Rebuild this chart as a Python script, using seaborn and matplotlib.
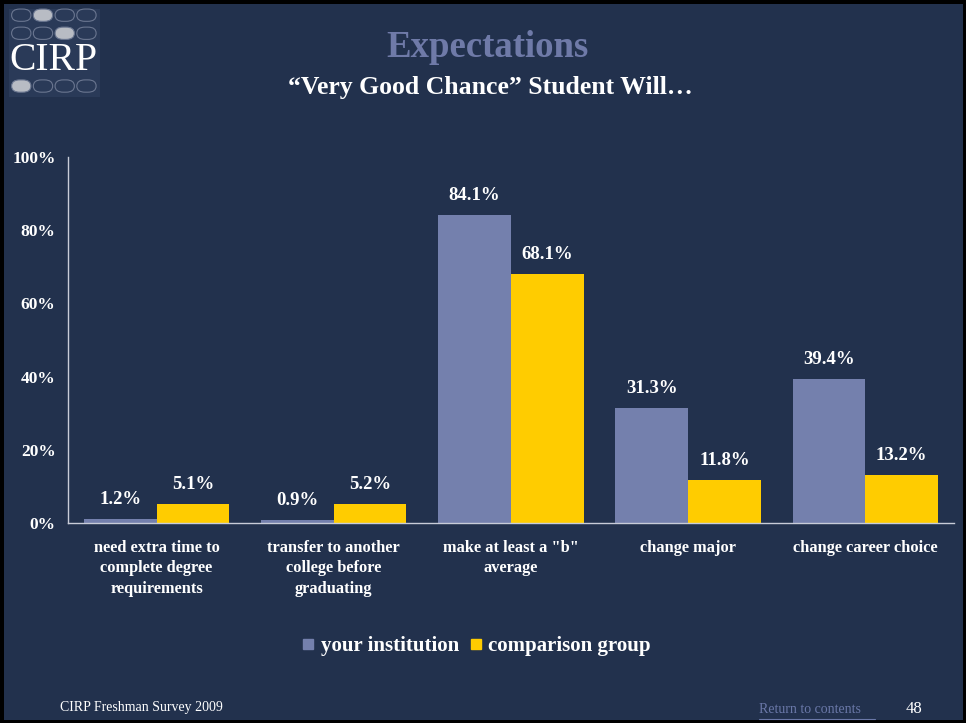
import seaborn as sns
import pandas as pd
import numpy as np
import matplotlib.pyplot as plt
from matplotlib.patches import FancyBboxPatch, Rectangle
from matplotlib.lines import Line2D

categories = ['need extra time to\ncomplete degree\nrequirements',
              'transfer to another\ncollege before\ngraduating',
              'make at least a "b"\naverage',
              'change major',
              'change career choice']
your_institution = [1.2, 0.9, 84.1, 31.3, 39.4]
comparison_group = [5.1, 5.2, 68.1, 11.8, 13.2]
series_names = ['your institution', 'comparison group']
y_ticks = [0, 20, 40, 60, 80, 100]

bg = '#22314d'
blue = '#7480ad'
yellow = '#ffcc00'

df = pd.DataFrame({
    'category': categories * 2,
    'value': your_institution + comparison_group,
    'series': [series_names[0]] * 5 + [series_names[1]] * 5,
})

sns.set_style('white')
plt.rcParams['font.family'] = ['Liberation Serif', 'DejaVu Serif']

fig = plt.figure(figsize=(9.66, 7.23), dpi=100)
fig.patch.set_facecolor(bg)
fig.patch.set_edgecolor('black')
fig.patch.set_linewidth(5)

ax = fig.add_axes([0.0704, 0.2766, 0.917, 0.5062])
ax.set_facecolor(bg)
sns.barplot(data=df, x='category', y='value', hue='series',
            palette=[blue, yellow], width=0.82, saturation=1,
            linewidth=0, ax=ax, legend=False)

for cont in ax.containers:
    for bar in cont:
        h = bar.get_height()
        ax.text(bar.get_x() + bar.get_width() / 2, h + 3.0, f'{h:.1f}%',
                ha='center', va='bottom', color='white', fontsize=13.5,
                fontweight='bold')

ax.set_ylim(0, 100)
ax.set_xlim(-0.5, 4.5)
ax.set_yticks(y_ticks)
ax.set_yticklabels([f'{t}%' for t in y_ticks], color='white',
                   fontsize=12.5, fontweight='bold')
ax.set_xticks(range(len(categories)))
ax.set_xticklabels(categories, color='white', fontsize=11.8,
                   fontweight='bold', linespacing=1.4, va='top')
ax.tick_params(axis='both', length=0)
ax.tick_params(axis='x', pad=12)
ax.tick_params(axis='y', pad=9)
ax.set_xlabel('')
ax.set_ylabel('')
for s in ['top', 'right']:
    ax.spines[s].set_visible(False)
for s in ['left', 'bottom']:
    ax.spines[s].set_color('#c8ccd8')
    ax.spines[s].set_linewidth(1)

# legend
handles = [Line2D([], [], marker='s', linestyle='', markersize=6.5, color=c)
           for c in [blue, yellow]]
leg = fig.legend(handles, series_names, loc='center', bbox_to_anchor=(0.49, 0.106),
                 ncol=2, frameon=False, handletextpad=0.0, columnspacing=0.2,
                 handlelength=1.2,
                 prop={'family': 'Liberation Serif', 'weight': 'bold', 'size': 15})
for t in leg.get_texts():
    t.set_color('white')

# titles
fig.text(0.505, 0.934, 'Expectations', ha='center', va='center',
         color='#6f7aa8', fontsize=26.5, fontweight='bold')
fig.text(0.508, 0.879, '\u201cVery Good Chance\u201d Student Will\u2026',
         ha='center', va='center', color='white', fontsize=18.5, fontweight='bold')

# logo
fig.patches.append(Rectangle((0.009, 0.866), 0.095, 0.122, transform=fig.transFigure,
                             facecolor='#2a3a58', edgecolor='none'))
pill_rows = [(0.979, 1), (0.954, 2), (0.881, 0)]
for yy, filled in pill_rows:
    for i in range(4):
        x0 = 0.012 + i * 0.0225
        fig.patches.append(FancyBboxPatch((x0, yy - 0.0085), 0.020, 0.017,
                                          boxstyle='round,pad=0,rounding_size=0.0085',
                                          transform=fig.transFigure,
                                          facecolor='#b8bcc4' if i == filled else 'none',
                                          edgecolor='#6a7690', linewidth=0.8))
fig.text(0.055, 0.917, 'CIRP', ha='center', va='center', color='white',
         fontsize=28.5)

# footer
fig.text(0.062, 0.022, 'CIRP Freshman Survey 2009', ha='left', va='center',
         color='white', fontsize=10)
fig.text(0.786, 0.018, 'Return to contents', ha='left', va='center',
         color='#6a78a8', fontsize=10)
fig.lines.append(Line2D([0.786, 0.906], [0.006, 0.006], transform=fig.transFigure,
                        color='#6a78a8', linewidth=0.8))
fig.text(0.937, 0.020, '48', ha='left', va='center', color='white', fontsize=12)

fig.savefig('out.png', dpi=100, facecolor=fig.get_facecolor(),
            edgecolor=fig.get_edgecolor())
